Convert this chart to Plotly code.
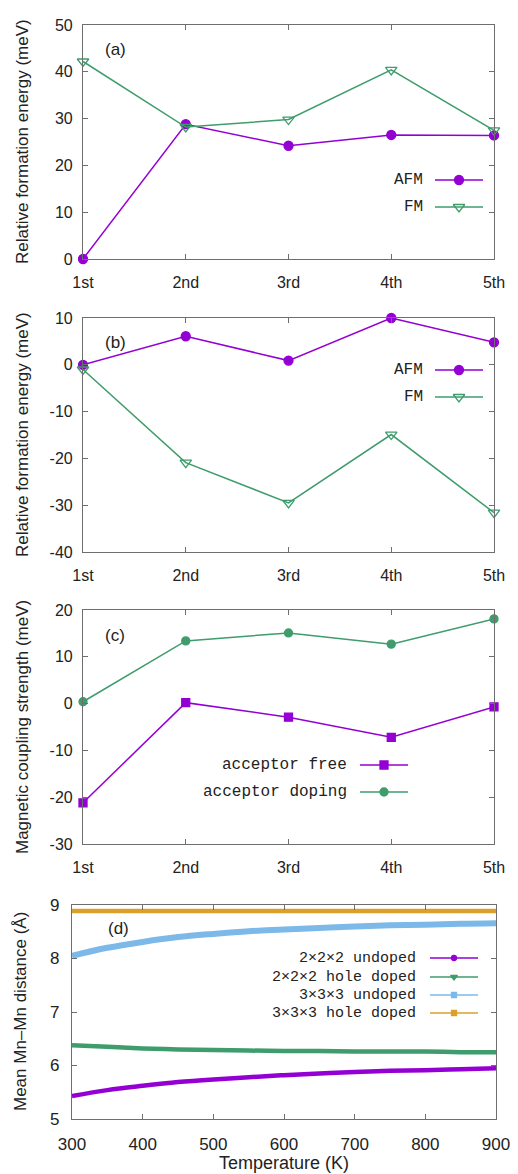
import plotly.graph_objects as go

# page offset: the browser body has an 8 px margin, so the figure is made
# 8 px smaller and all pixel positions are measured from the window corner
OFF = 8
WIN_W, WIN_H = 518, 1174
W, H = WIN_W - OFF, WIN_H - OFF

# ---------------- data ----------------
neighbors = ["1st", "2nd", "3rd", "4th", "5th"]

a_afm = [0.0, 28.8, 24.2, 26.5, 26.4]
a_fm = [42.2, 28.2, 29.8, 40.4, 27.5]

b_afm = [0.0, 6.1, 0.9, 10.0, 4.8]
b_fm = [-1.0, -20.9, -29.5, -14.9, -31.6]

c_free = [-21.2, 0.2, -2.9, -7.2, -0.7]
c_doping = [0.4, 13.4, 15.1, 12.7, 18.1]

temps = [300, 350, 400, 450, 500, 550, 600, 650, 700, 750, 800, 850, 900]
d_222_undoped = [5.43, 5.54, 5.62, 5.69, 5.74, 5.78, 5.82, 5.85, 5.88, 5.90, 5.91, 5.93, 5.95]
d_222_hole = [6.38, 6.35, 6.32, 6.30, 6.29, 6.28, 6.27, 6.27, 6.26, 6.26, 6.26, 6.25, 6.25]
d_333_undoped = [8.05, 8.20, 8.31, 8.40, 8.46, 8.51, 8.54, 8.57, 8.60, 8.62, 8.63, 8.65, 8.66]
d_333_hole = [8.89, 8.89, 8.89, 8.89, 8.89, 8.89, 8.89, 8.89, 8.89, 8.89, 8.89, 8.89, 8.89]

a_yticks = [0, 10, 20, 30, 40, 50]
b_yticks = [-40, -30, -20, -10, 0, 10]
c_yticks = [-30, -20, -10, 0, 10, 20]
d_yticks = [5, 6, 7, 8, 9]
d_xticks = [300, 400, 500, 600, 700, 800, 900]

# ---------------- style ----------------
PURPLE = "#9400d3"
GREEN = "#3f9c6c"
BLUE = "#7cb9e8"
ORANGE = "#d9a02c"
FRAME = "#6e6e6e"
SANS = "Liberation Sans, Arial, sans-serif"
MONO = "Liberation Mono, Courier New, monospace"


def px(p):
    return (p - OFF) / W


def py(p):
    return 1 - (p - OFF) / H


fig = go.Figure()

panels = [
    dict(x=[83, 494], y=[25, 259]),
    dict(x=[83, 494], y=[318, 552]),
    dict(x=[83, 494], y=[610, 844]),
    dict(x=[72, 496], y=[905, 1119]),
]

axis_common = dict(
    showline=True, linecolor=FRAME, linewidth=1.2, mirror="ticks",
    ticks="inside", ticklen=5, tickcolor=FRAME, tickwidth=1,
    showgrid=False, zeroline=False, automargin=False,
)

layout = {}
for i, p in enumerate(panels, start=1):
    xs = "xaxis" if i == 1 else f"xaxis{i}"
    ys = "yaxis" if i == 1 else f"yaxis{i}"
    fs = 17 if i == 4 else 16
    layout[xs] = dict(axis_common, domain=[px(p["x"][0]), px(p["x"][1])],
                      anchor="y" if i == 1 else f"y{i}",
                      tickfont=dict(family=SANS, size=fs, color="#222"),
                      ticklabelstandoff=9)
    layout[ys] = dict(axis_common, domain=[py(p["y"][1]), py(p["y"][0])],
                      anchor="x" if i == 1 else f"x{i}",
                      tickfont=dict(family=SANS, size=fs, color="#222"),
                      ticklabelstandoff=6 if i < 4 else 8)

# categorical axes a-c
for i, ticks in [(1, a_yticks), (2, b_yticks), (3, c_yticks)]:
    xs = "xaxis" if i == 1 else f"xaxis{i}"
    ys = "yaxis" if i == 1 else f"yaxis{i}"
    layout[xs].update(type="category", range=[0, 4], categoryorder="array",
                      categoryarray=neighbors)
    layout[ys].update(range=[ticks[0], ticks[-1]], tickmode="array", tickvals=ticks,
                      ticktext=[str(v) for v in ticks])

layout["xaxis4"].update(range=[d_xticks[0], d_xticks[-1]], tickmode="array",
                        tickvals=d_xticks, ticktext=[str(v) for v in d_xticks])
layout["yaxis4"].update(range=[d_yticks[0], d_yticks[-1]], tickmode="array",
                        tickvals=d_yticks, ticktext=[str(v) for v in d_yticks])

# overlay axis in window-pixel coordinates for hand-drawn legends
layout["xaxis5"] = dict(domain=[0, 1], range=[OFF, WIN_W], visible=False, anchor="y5",
                        automargin=False)
layout["yaxis5"] = dict(domain=[0, 1], range=[WIN_H, OFF], visible=False, anchor="x5",
                        automargin=False)


def line_trace(x, y, color, symbol, xa, ya, size=9, width=1.5):
    return go.Scatter(
        x=x, y=y, mode="lines+markers", xaxis=xa, yaxis=ya,
        line=dict(color=color, width=width),
        marker=dict(symbol=symbol, size=size, color=color,
                    line=dict(color=color, width=1.3)),
        showlegend=False, hoverinfo="skip", cliponaxis=False,
    )


# (a)
fig.add_trace(line_trace(neighbors, a_afm, PURPLE, "circle", "x", "y"))
fig.add_trace(line_trace(neighbors, a_fm, GREEN, "triangle-down-open", "x", "y", size=10))
# (b)
fig.add_trace(line_trace(neighbors, b_afm, PURPLE, "circle", "x2", "y2"))
fig.add_trace(line_trace(neighbors, b_fm, GREEN, "triangle-down-open", "x2", "y2", size=10))
# (c)
fig.add_trace(line_trace(neighbors, c_free, PURPLE, "square", "x3", "y3", size=8))
fig.add_trace(line_trace(neighbors, c_doping, GREEN, "circle", "x3", "y3", size=8))

# (d)
for vals, col, w in [(d_333_hole, ORANGE, 4.5), (d_333_undoped, BLUE, 6),
                     (d_222_hole, GREEN, 4.5), (d_222_undoped, PURPLE, 4.5)]:
    fig.add_trace(go.Scatter(x=temps, y=vals, mode="lines", xaxis="x4", yaxis="y4",
                             line=dict(color=col, width=w, shape="spline"),
                             showlegend=False, hoverinfo="skip"))

# ---------------- hand-drawn legends ----------------
annotations = []


def legend_entry(text, ty, text_right, x0, x1, color, symbol, size, fsize=16):
    fig.add_trace(go.Scatter(x=[x0, x1], y=[ty, ty], mode="lines", xaxis="x5", yaxis="y5",
                             line=dict(color=color, width=1.5), showlegend=False,
                             hoverinfo="skip"))
    fig.add_trace(go.Scatter(x=[(x0 + x1) / 2], y=[ty], mode="markers", xaxis="x5", yaxis="y5",
                             marker=dict(symbol=symbol, size=size, color=color,
                                         line=dict(color=color, width=1.3)),
                             showlegend=False, hoverinfo="skip"))
    annotations.append(dict(x=px(text_right), y=py(ty), xref="paper", yref="paper",
                            text=text, showarrow=False, xanchor="right", yanchor="middle",
                            font=dict(family=MONO, size=fsize, color="#222")))


legend_entry("AFM", 180, 425, 435, 483, PURPLE, "circle", 9)
legend_entry("FM", 207, 425, 435, 483, GREEN, "triangle-down-open", 10)
legend_entry("AFM", 370, 425, 435, 483, PURPLE, "circle", 9)
legend_entry("FM", 397, 425, 435, 483, GREEN, "triangle-down-open", 10)
legend_entry("acceptor free", 765, 349, 360, 408, PURPLE, "square", 8)
legend_entry("acceptor doping", 792, 349, 360, 408, GREEN, "circle", 8)
legend_entry("2×2×2 undoped", 958, 418, 430, 478, PURPLE, "circle", 5, fsize=15)
legend_entry("2×2×2 hole doped", 977, 418, 430, 478, GREEN, "triangle-down", 6, fsize=15)
legend_entry("3×3×3 undoped", 995, 418, 430, 478, BLUE, "square", 5, fsize=15)
legend_entry("3×3×3 hole doped", 1013, 418, 430, 478, ORANGE, "square", 5, fsize=15)

# panel labels
for lab, xx, yy in [("(a)", 115, 50), ("(b)", 115, 342), ("(c)", 115, 635), ("(d)", 118, 928)]:
    annotations.append(dict(x=px(xx), y=py(yy), xref="paper", yref="paper", text=lab,
                            showarrow=False, xanchor="center", yanchor="middle",
                            font=dict(family=SANS, size=17, color="#222")))

# axis titles
for txt, yy, xx in [("Relative formation energy (meV)", 142, 22),
                    ("Relative formation energy (meV)", 435, 22),
                    ("Magnetic coupling strength (meV)", 727, 22),
                    ("Mean Mn–Mn distance (Å)", 1012, 20)]:
    annotations.append(dict(x=px(xx), y=py(yy), xref="paper", yref="paper", text=txt,
                            showarrow=False, textangle=-90, xanchor="center", yanchor="middle",
                            font=dict(family=SANS, size=17, color="#222")))
annotations.append(dict(x=px(284), y=py(1163), xref="paper", yref="paper",
                        text="Temperature (K)", showarrow=False, xanchor="center",
                        yanchor="middle", font=dict(family=SANS, size=18, color="#222")))

fig.update_layout(
    width=W, height=H, autosize=False,
    margin=dict(l=0, r=0, t=0, b=0),
    plot_bgcolor="rgba(0,0,0,0)", paper_bgcolor="white",
    annotations=annotations,
    **layout,
)

fig.write_html("out.html")
